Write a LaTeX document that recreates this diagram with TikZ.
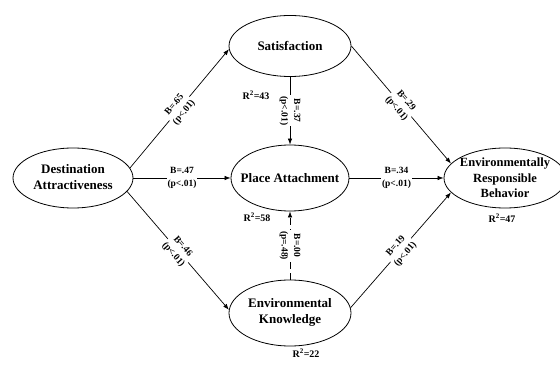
\documentclass[tikz,border=0pt]{standalone}
\usepackage{fontspec}
\setmainfont{Liberation Serif}
\usetikzlibrary{shapes.geometric,arrows.meta}
\begin{document}
\begin{tikzpicture}[x=1pt,y=-1pt,
  ell/.style={draw,ellipse,inner sep=0pt,line width=0.8pt},
  ntext/.style={align=center,inner sep=0pt,font=\fontsize{13}{16}\selectfont\bfseries},
  lab/.style={align=center,fill=white,inner sep=1pt,font=\fontsize{9.5}{12.5}\selectfont\bfseries},
  rsq/.style={inner sep=0pt,font=\fontsize{10}{12}\selectfont\bfseries},
  conn/.style={draw,line width=0.7pt,-{Latex[length=6pt,width=4.5pt]}}
]
\useasboundingbox (0,0) rectangle (560,374);
% ellipses
\node[ell,minimum width=120pt,minimum height=60pt] (DA) at (73,178) {};
\node[ntext] (DAt) at (73,177) {Destination\\Attractiveness};
\node[ell,minimum width=122pt,minimum height=61pt] (Sat) at (290,46) {};
\node[ntext] (Satt) at (290,46) {Satisfaction};
\node[ell,minimum width=118pt,minimum height=66pt] (PA) at (290,178) {};
\node[ntext] (PAt) at (290,178) {Place Attachment};
\node[ell,minimum width=122pt,minimum height=66pt] (EK) at (290,313) {};
\node[ntext] (EKt) at (290,312) {Environmental\\Knowledge};
\node[ell,minimum width=122pt,minimum height=60pt] (ERB) at (505,178) {};
\node[ntext,font=\fontsize{12.5}{15.5}\selectfont\bfseries] (ERBt) at (505,178) {Environmentally\\Responsible\\Behavior};
% connectors
\draw[conn] (DA.10) -- (Sat.183) node[midway,lab,sloped] {B=.65\\(p<.01)};
\draw[conn] (DA.east) -- (PA.west) node[midway,lab] {B=.47\\(p<.01)};
\draw[conn] (DA.-14) -- (EK.177) node[midway,lab,sloped] {B=.46\\(p<.01)};
\draw[conn] (Sat.south) -- (PA.north) node[midway,lab,rotate=-90] {B=.37\\(p<.01)};
\draw[conn,dash pattern=on 7pt off 4pt] (EK.north) -- (PA.south) node[midway,lab,rotate=-90] {B=.00\\(p=.48)};
\draw[conn] (Sat.east) -- (ERB.165) node[midway,lab,sloped] {B=.29\\(p<.01)};
\draw[conn] (PA.east) -- (ERB.west) node[midway,lab] {B=.34\\(p<.01)};
\draw[conn] (EK.5) -- (ERB.195) node[midway,lab,sloped] {B=.19\\(p<.01)};
% R squared
\node[rsq] (r43) at (256,95) {R\textsuperscript{2}=43};
\node[rsq] (r58) at (257,217) {R\textsuperscript{2}=58};
\node[rsq] (r47) at (502,218) {R\textsuperscript{2}=47};
\node[rsq] (r22) at (306,353) {R\textsuperscript{2}=22};
\end{tikzpicture}
\end{document}
